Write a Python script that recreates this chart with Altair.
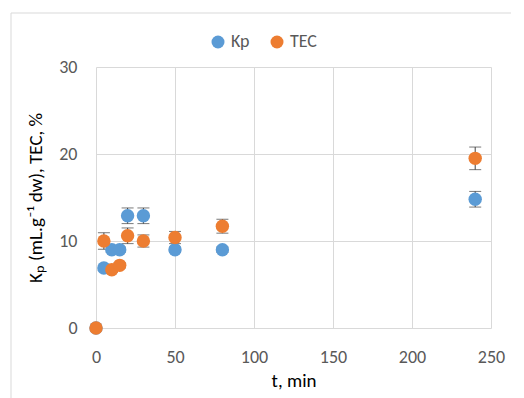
import altair as alt
import pandas as pd

# ---- data ----
t_kp = [0, 5, 10, 15, 20, 30, 50, 80, 240]
kp_vals = [0, 6.9, 9.0, 9.0, 12.9, 12.9, 9.0, 9.0, 14.8]
kp_err = [0, 0.3, 0.3, 0.3, 0.9, 0.9, 0.3, 0.3, 0.9]

t_tec = [0, 5, 10, 15, 20, 30, 50, 80, 240]
tec_vals = [0, 10.0, 6.7, 7.2, 10.6, 10.0, 10.4, 11.7, 19.5]
tec_err = [0, 0.95, 0.3, 0.3, 0.9, 0.7, 0.7, 0.8, 1.3]

series_names = ["Kp", "TEC"]
series_colors = ["#5B9BD5", "#ED7D31"]
x_ticks = [0, 50, 100, 150, 200, 250]
y_ticks = [0, 10, 20, 30]

rows = []
for t, v, e in zip(t_kp, kp_vals, kp_err):
    rows.append({"series": "Kp", "t": t, "v": v, "lo": v - e, "hi": v + e})
for t, v, e in zip(t_tec, tec_vals, tec_err):
    rows.append({"series": "TEC", "t": t, "v": v, "lo": v - e, "hi": v + e})
df = pd.DataFrame(rows)

FONT = "Carlito, Lato, sans-serif"

xs = alt.X("t:Q", scale=alt.Scale(domain=[0, 250], nice=False, zero=False),
           axis=alt.Axis(values=x_ticks, title="t, min", grid=True, labelFlush=False,
                         titleFontWeight="normal"))
ys = alt.Y("v:Q", scale=alt.Scale(domain=[0, 30], nice=False, zero=False),
           axis=alt.Axis(values=y_ticks, title="Kₚ (mL.g⁻¹ dw), TEC, %", grid=True,
                         labelFlush=False, titleFontWeight="normal"))

base = alt.Chart(df)

err_rule = base.mark_rule(color="#404040", strokeWidth=1).encode(
    x=alt.X("t:Q", title="t, min"), y=alt.Y("lo:Q", title="Kₚ (mL.g⁻¹ dw), TEC, %"), y2="hi:Q"
)
cap_lo = base.mark_tick(color="#404040", orient="horizontal", size=12, thickness=1).encode(
    x=alt.X("t:Q", title="t, min"), y=alt.Y("lo:Q", title="Kₚ (mL.g⁻¹ dw), TEC, %")
)
cap_hi = base.mark_tick(color="#404040", orient="horizontal", size=12, thickness=1).encode(
    x=alt.X("t:Q", title="t, min"), y=alt.Y("hi:Q", title="Kₚ (mL.g⁻¹ dw), TEC, %")
)

points = base.mark_point(filled=True, shape="circle", size=180, opacity=1).encode(
    x=xs,
    y=ys,
    color=alt.Color(
        "series:N",
        scale=alt.Scale(domain=series_names, range=series_colors),
        legend=alt.Legend(
            title=None, orient="none", direction="horizontal",
            legendX=113, legendY=-34, padding=0,
            symbolType="circle", symbolSize=169, symbolStrokeWidth=0,
            labelFont=FONT, labelFontSize=18, labelColor="#595959",
            labelOffset=4, columnPadding=18,
        ),
    ),
    order=alt.Order("series:N"),
)

frame_data = alt.Data(values=[{"a": 1}])
frame_left = alt.Chart(frame_data).mark_rule(color="#D9D9D9", strokeWidth=1).encode(
    x=alt.value(-85), y=alt.value(-54), y2=alt.value(345)
)
frame_top = alt.Chart(frame_data).mark_rule(color="#D9D9D9", strokeWidth=1).encode(
    x=alt.value(-85), x2=alt.value(440), y=alt.value(-54)
)

chart = alt.layer(frame_left, frame_top, err_rule, cap_lo, cap_hi, points).properties(
    width=395, height=261,
    autosize=alt.AutoSizeParams(type="none"),
    padding={"left": 88, "top": 59, "right": 20, "bottom": 70},
).configure_view(stroke=None).configure_axis(
    domain=False, ticks=False, gridColor="#D9D9D9", gridWidth=1,
    labelFont=FONT, labelFontSize=18, labelColor="#595959",
    titleFont=FONT, titleFontSize=19, titleColor="#000000", titleFontWeight="normal",
).configure_axisX(
    labelPadding=20, titlePadding=5,
).configure_axisY(
    labelPadding=19, titlePadding=13,
)

chart.save("out.html", embed_options={"renderer": "svg", "actions": False})
